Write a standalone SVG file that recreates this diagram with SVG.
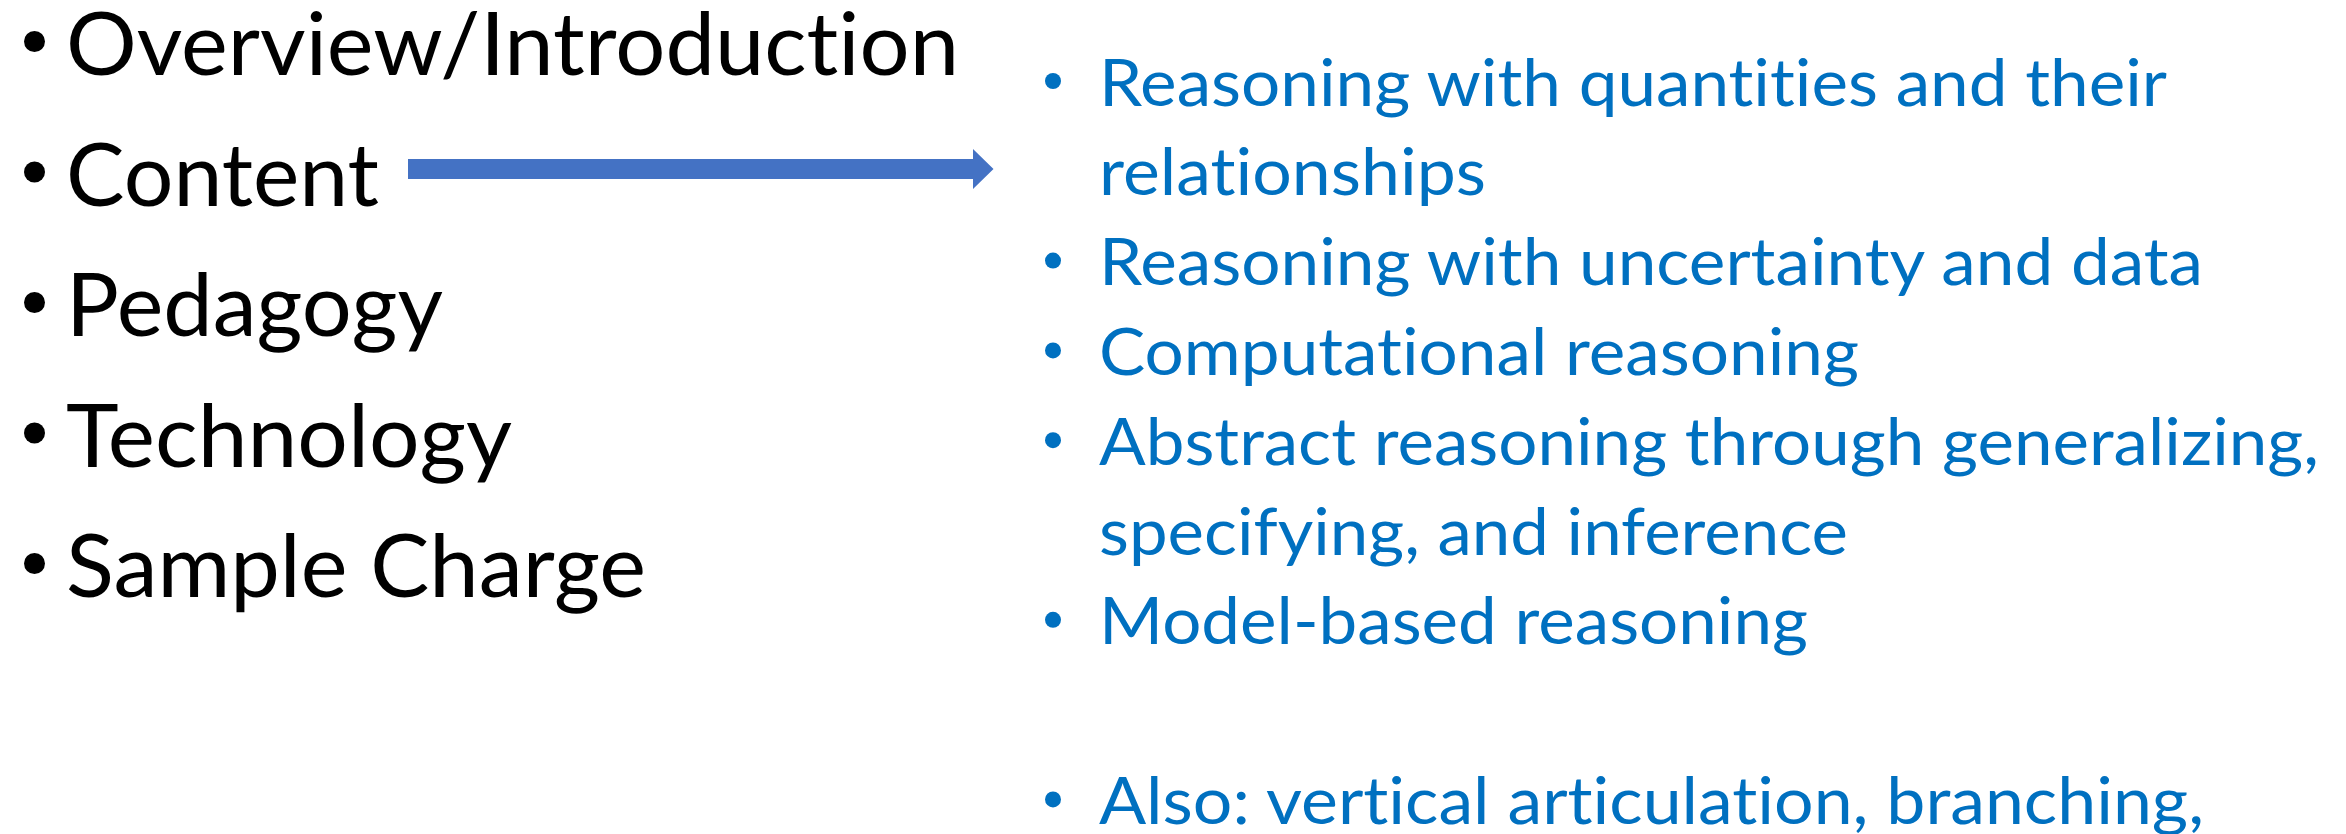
<svg xmlns="http://www.w3.org/2000/svg" width="2346" height="834" viewBox="0 0 2346 834">
<style>
text{font-variant-ligatures:none;font-feature-settings:"liga" 0,"clig" 0,"dlig" 0}
.l{font-family:Lato,"Liberation Sans",sans-serif;font-size:87px;fill:#000}
.r{font-family:Lato,"Liberation Sans",sans-serif;font-size:65px;fill:#0070C0}
.bl{fill:#000}
.br{fill:#0070C0}
</style>
<rect width="2346" height="834" fill="#fff"/>
<g id="left-list">
<g id="item-overview"><circle class="bl" cx="34.5" cy="41.5" r="10.5"/><text class="l" x="66" y="75" textLength="893" lengthAdjust="spacingAndGlyphs">Overview/Introduction</text></g>
<g id="item-content"><circle class="bl" cx="34.5" cy="172" r="10.5"/><text class="l" x="66" y="205.5" textLength="313" lengthAdjust="spacingAndGlyphs">Content</text></g>
<g id="item-pedagogy"><circle class="bl" cx="34.5" cy="302.5" r="10.5"/><text class="l" x="66" y="336" textLength="377" lengthAdjust="spacingAndGlyphs">Pedagogy</text></g>
<g id="item-technology"><circle class="bl" cx="34.5" cy="433" r="10.5"/><text class="l" x="66" y="466.5" textLength="446" lengthAdjust="spacingAndGlyphs">Technology</text></g>
<g id="item-sample"><circle class="bl" cx="34.5" cy="563.5" r="10.5"/><text class="l" x="66" y="597" textLength="580" lengthAdjust="spacingAndGlyphs">Sample Charge</text></g>
</g>
<g id="connectors">
<polygon id="arrow-content" fill="#4472C4" points="408,159 973,159 973,149 993.5,169 973,189 973,179 408,179"/>
</g>
<g id="right-list">
<g id="item-quantities"><circle class="br" cx="1053" cy="81" r="8"/><text class="r" x="1099" y="105.5" textLength="1068" lengthAdjust="spacingAndGlyphs">Reasoning with quantities and their</text><text class="r" x="1099" y="195.3" textLength="387" lengthAdjust="spacingAndGlyphs">relationships</text></g>
<g id="item-uncertainty"><circle class="br" cx="1053" cy="260.6" r="8"/><text class="r" x="1099" y="285.1" textLength="1104" lengthAdjust="spacingAndGlyphs">Reasoning with uncertainty and data</text></g>
<g id="item-computational"><circle class="br" cx="1053" cy="350.4" r="8"/><text class="r" x="1099" y="374.9" textLength="760" lengthAdjust="spacingAndGlyphs">Computational reasoning</text></g>
<g id="item-abstract"><circle class="br" cx="1053" cy="440.2" r="8"/><text class="r" x="1099" y="464.7" textLength="1220" lengthAdjust="spacingAndGlyphs">Abstract reasoning through generalizing,</text><text class="r" x="1099" y="554.5" textLength="749" lengthAdjust="spacingAndGlyphs">specifying, and inference</text></g>
<g id="item-model"><circle class="br" cx="1053" cy="619.8" r="8"/><text class="r" x="1099" y="644.3" textLength="709" lengthAdjust="spacingAndGlyphs">Model-based reasoning</text></g>
<g id="item-also"><circle class="br" cx="1053" cy="799.4" r="8"/><text class="r" x="1099" y="823.9" textLength="1105" lengthAdjust="spacingAndGlyphs">Also: vertical articulation, branching,</text></g>
</g>
</svg>
